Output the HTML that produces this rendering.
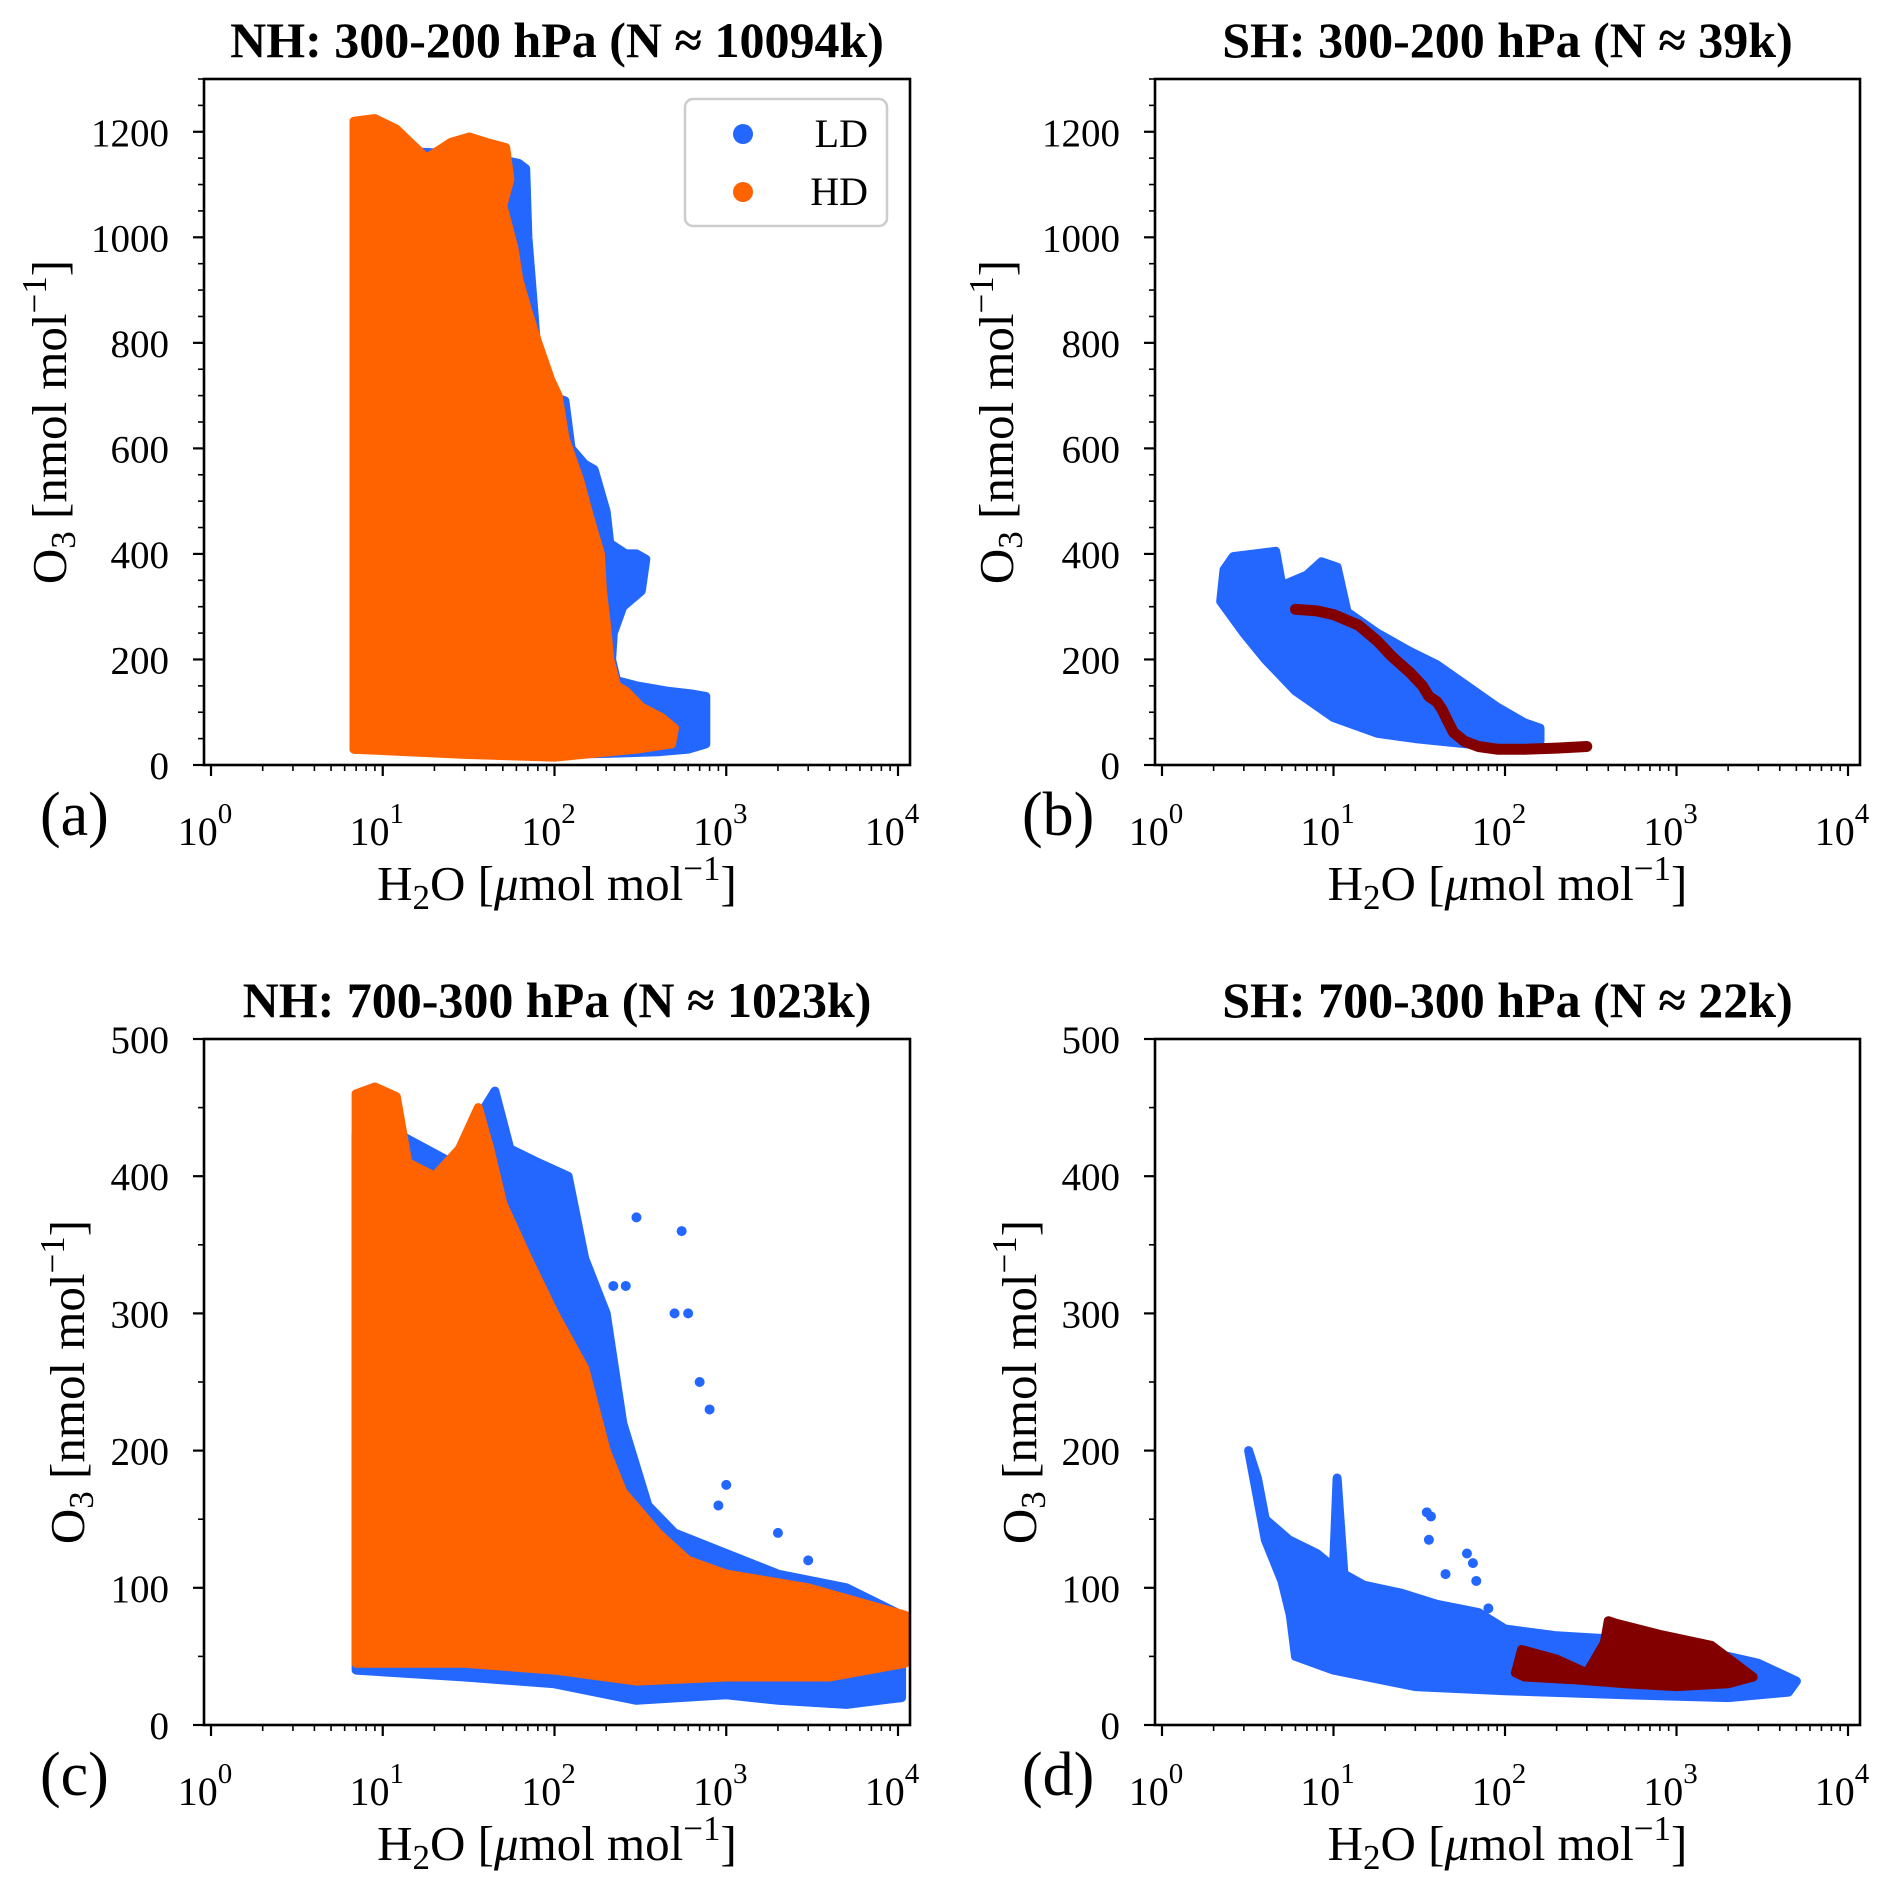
<!DOCTYPE html>
<html><head><meta charset="utf-8"><style>
html,body{margin:0;padding:0;background:#fff;}
svg{display:block;font-family:"Liberation Serif","DejaVu Serif",serif;}
</style></head><body>
<svg id="fig" width="1892" height="1891" viewBox="0 0 1892 1891" xmlns="http://www.w3.org/2000/svg"></svg>
<script>
// ---- data (H2O [umol/mol], O3 [nmol/mol]) ----
const xTickExp = [0,1,2,3,4];
const yTicksTop = [0,200,400,600,800,1000,1200];
const yTicksBot = [0,100,200,300,400,500];
const titles = ["NH: 300-200 hPa (N \u2248 10094k)","SH: 300-200 hPa (N \u2248 39k)","NH: 700-300 hPa (N \u2248 1023k)","SH: 700-300 hPa (N \u2248 22k)"];
const panelLetters = ["(a)","(b)","(c)","(d)"];
const aLD = [[6.8,30],[6.8,1170],[10,1165],[20,1160],[30,1150],[45,1150],[62,1140],[68,1130],[70,1000],[75,880],[80,760],[95,700],[115,690],[125,600],[150,570],[170,560],[200,480],[210,420],[260,400],[300,400],[340,390],[320,330],[250,300],[220,250],[215,200],[230,160],[300,150],[450,140],[620,135],[760,130],[760,40],[600,30],[400,25],[200,22],[100,20],[30,25],[6.8,30]];
const aHD = [[6.8,30],[6.8,1220],[9,1225],[12,1205],[18,1150],[25,1180],[32,1190],[40,1180],[52,1170],[55,1110],[50,1060],[58,980],[62,920],[70,860],[80,800],[95,730],[105,700],[115,620],[140,540],[160,470],[185,400],[190,330],[200,270],[210,200],[230,150],[260,140],[320,110],[420,90],[500,70],[480,40],[300,30],[100,15],[30,20],[6.8,30]];
const bLD = [[2.2,310],[2.3,370],[2.6,395],[4.6,405],[5,340],[7,360],[8.5,385],[10.5,375],[12,290],[18,250],[28,215],[40,190],[60,150],[90,110],[130,80],[160,70],[160,45],[120,35],[60,40],[30,50],[18,60],[10,90],[6,140],[4,200],[3,250],[2.2,310]];
const bHD = [[6,295],[8,292],[10,285],[14,265],[18,235],[22,205],[28,175],[33,150],[36,130],[40,120],[43,105],[46,85],[50,62],[58,45],[70,35],[90,30],[130,30],[200,32],[300,35]];
const cLD = [[7,40],[7,430],[9,440],[15,425],[25,410],[35,440],[45,462],[55,420],[80,410],[120,400],[150,340],[200,300],[250,220],[350,160],[500,140],[1000,125],[2000,110],[5000,100],[10500,80],[10500,20],[5000,15],[2000,18],[1000,22],[300,18],[100,30],[30,35],[7,40]];
const cHD = [[7,45],[7,460],[9,465],[12,458],[14,410],[20,400],[28,420],[36,450],[42,420],[50,380],[70,340],[100,300],[150,260],[200,200],[250,170],[400,140],[600,120],[1000,110],[3000,100],[11000,80],[11000,45],[4000,35],[1000,35],[300,32],[100,40],[30,45],[7,45]];
const cOutX = [550,600,700,800,1000,2000,3000,300,260,220,500,900];
const cOutY = [360,300,250,230,175,140,120,370,320,320,300,160];
const dLD = [[3.2,200],[3.6,180],[4,150],[5.5,135],[8,125],[10,115],[10.5,180],[11.5,110],[15,102],[25,96],[40,88],[70,82],[100,70],[200,65],[500,62],[1000,56],[2000,50],[3000,45],[5000,32],[4500,24],[2000,20],[500,22],[100,25],[30,28],[10,40],[6,50],[5.6,80],[5,105],[4,135],[3.2,200]];
const dOutX = [35,37,36,60,65,68,45,80];
const dOutY = [155,152,135,125,118,105,110,85];
const dHD = [[115,38],[125,55],[200,48],[300,38],[380,60],[400,76],[450,74],[800,66],[1600,58],[2800,35],[2000,30],[1000,28],[500,30],[250,33],[130,35],[115,38]];

const BLUE="#2367ff", ORANGE="#ff6300", RED="#820000";
const svg=document.getElementById('fig');
const NS="http://www.w3.org/2000/svg";
function mk(tag,attrs,parent){const e=document.createElementNS(NS,tag);for(const k in attrs)e.setAttribute(k,attrs[k]);(parent||svg).appendChild(e);return e;}

const panels=[
 {L:204,R:910,T:79,B:765,ymax:1300,yt:yTicksTop,minor:50,ylabX:66,xlabY:900,letX:40,letY:835},
 {L:1155,R:1860,T:79,B:765,ymax:1300,yt:yTicksTop,minor:50,ylabX:1013,xlabY:900,letX:1022,letY:835},
 {L:204,R:910,T:1039,B:1725,ymax:500,yt:yTicksBot,minor:50,ylabX:84,xlabY:1860,letX:40,letY:1795},
 {L:1155,R:1860,T:1039,B:1725,ymax:500,yt:yTicksBot,minor:50,ylabX:1036,xlabY:1860,letX:1022,letY:1795}
];
panels.forEach((p,i)=>{
  p.x=v=>p.L+7+(Math.log10(v))*((p.R-p.L-19)/4);
  p.y=v=>p.B-v/p.ymax*(p.B-p.T);
  const g=mk('g',{});
  
  
  p.g=g;
  const t=mk('text',{x:(p.L+p.R)/2,y:p.T-22,'text-anchor':'middle','font-size':50,'font-weight':'bold'},g);
  t.textContent=titles[i];
  
  
  const l=mk('text',{x:p.letX,y:p.letY,'font-size':62},g);
  l.textContent=panelLetters[i];
  
  
});

function cloud(p,pts,color,name){
  const d=pts.map((q,k)=>(k?'L':'M')+p.x(q[0]).toFixed(1)+','+p.y(q[1]).toFixed(1)).join(' ')+'Z';
  const e=mk('path',{d:d,fill:color,stroke:color,'stroke-width':9,'stroke-linejoin':'round'},p.g);
  
  
}
function line(p,pts,color,name){
  const d=pts.map((q,k)=>(k?'L':'M')+p.x(q[0]).toFixed(1)+','+p.y(q[1]).toFixed(1)).join(' ');
  const e=mk('path',{d:d,fill:'none',stroke:color,'stroke-width':11,'stroke-linejoin':'round','stroke-linecap':'round'},p.g);
  
  
}
function dots(p,xs,ys,color,name){
  xs.forEach((v,k)=>{
    const c=mk('circle',{cx:p.x(v),cy:p.y(ys[k]),r:5,fill:color},p.g);
    
    
  });
}
cloud(panels[0],aLD,BLUE,'ld-scatter-a');
cloud(panels[0],aHD,ORANGE,'hd-scatter-a');
cloud(panels[1],bLD,BLUE,'ld-scatter-b');
line(panels[1],bHD,RED,'hd-scatter-b');
cloud(panels[2],cLD,BLUE,'ld-scatter-c');
dots(panels[2],cOutX,cOutY,BLUE,'ld-outlier-c');
cloud(panels[2],cHD,ORANGE,'hd-scatter-c');
cloud(panels[3],dLD,BLUE,'ld-scatter-d');
dots(panels[3],dOutX,dOutY,BLUE,'ld-outlier-d');
cloud(panels[3],dHD,RED,'hd-scatter-d');

panels.forEach((p,i)=>{
  const g=p.g;
  const fr=mk('rect',{x:p.L,y:p.T,width:p.R-p.L,height:p.B-p.T,fill:'none',stroke:'#000','stroke-width':2.6},g);
  
  
  xTickExp.forEach(e=>{
    const X=p.x(Math.pow(10,e));
    mk('line',{x1:X,x2:X,y1:p.B,y2:p.B+11,stroke:'#000','stroke-width':2.2},g);
    const t=mk('text',{x:X-6,y:p.B+80,'text-anchor':'middle','font-size':40},g);
    t.textContent='10';
    const s=mk('tspan',{dy:-22,'font-size':29},t);
    s.textContent=String(e);
    
    
    if(e<4){for(let m=2;m<=9;m++){const Xm=p.x(m*Math.pow(10,e));mk('line',{x1:Xm,x2:Xm,y1:p.B,y2:p.B+6,stroke:'#000','stroke-width':1.6},g);}}
  });
  for(let v=0;v<=p.ymax;v+=p.minor){const Y=p.y(v);mk('line',{x1:p.L-6,x2:p.L,y1:Y,y2:Y,stroke:'#000','stroke-width':1.6},g);}
  p.yt.forEach(v=>{
    const Y=p.y(v);
    mk('line',{x1:p.L-11,x2:p.L,y1:Y,y2:Y,stroke:'#000','stroke-width':2.2},g);
    const t=mk('text',{x:p.L-35,y:Y+14,'text-anchor':'end','font-size':39},g);
    t.textContent=String(v);
    
    
  });
  const xl=mk('text',{x:(p.L+p.R)/2,y:p.xlabY,'text-anchor':'middle','font-size':49},g);
  xl.innerHTML='H<tspan dy="9" font-size="35">2</tspan><tspan dy="-9">O [</tspan><tspan font-style="italic">μ</tspan>mol mol<tspan dy="-20" font-size="35">−1</tspan><tspan dy="20">]</tspan>';
  
  
  const cy=(p.T+p.B)/2;
  const yl=mk('text',{x:p.ylabX,y:cy,'text-anchor':'middle','font-size':49,transform:`rotate(-90 ${p.ylabX} ${cy})`},g);
  yl.innerHTML='O<tspan dy="9" font-size="35">3</tspan><tspan dy="-9"> [nmol mol</tspan><tspan dy="-20" font-size="35">−1</tspan><tspan dy="20">]</tspan>';
  
  
});
const lg=mk('g',{});


mk('rect',{x:685,y:99,width:202,height:127,rx:8,fill:'#fff','fill-opacity':0.85,stroke:'#cccccc','stroke-width':2.5},lg);
mk('circle',{cx:743,cy:134,r:10,fill:BLUE},lg);
mk('circle',{cx:743,cy:192,r:10,fill:ORANGE},lg);
const t1=mk('text',{x:868,y:147,'text-anchor':'end','font-size':40},lg);t1.textContent='LD';


const t2=mk('text',{x:868,y:205,'text-anchor':'end','font-size':40},lg);t2.textContent='HD';


</script>
</body></html>
